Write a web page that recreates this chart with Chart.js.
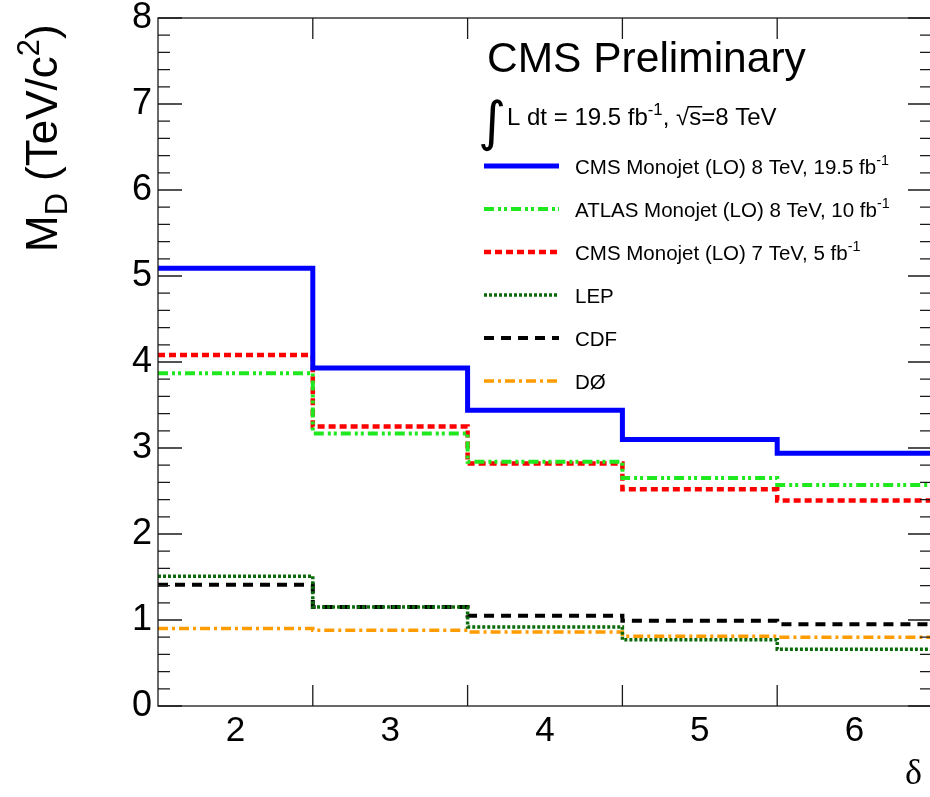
<!DOCTYPE html>
<html>
<head>
<meta charset="utf-8">
<script src="https://cdn.jsdelivr.net/npm/chart.js@4.4.1/dist/chart.umd.min.js"></script>
<style>
  html, body { margin: 0; padding: 0; background: #fff; overflow: hidden; }
  #wrap { position: relative; width: 932px; height: 797px; }
</style>
</head>
<body>
<div id="wrap"><canvas id="limitChart"></canvas></div>
<script>
"use strict";

// Binkanter i delta (antal extra dimensioner)
const binEdges = [1.5, 2.5, 3.5, 4.5, 5.5, 6.5];
const xTicks = [2, 3, 4, 5, 6];
const yTicks = [0, 1, 2, 3, 4, 5, 6, 7, 8];

// Nedre gränser på M_D (TeV), ett värde per bin
const cms8 = [5.09, 3.93, 3.44, 3.10, 2.94];
const atlas8 = [3.87, 3.17, 2.84, 2.65, 2.57];
const cms7 = [4.08, 3.25, 2.82, 2.52, 2.39];
const lep = [1.51, 1.15, 0.92, 0.77, 0.66];
const cdf = [1.41, 1.15, 1.05, 0.99, 0.95];
const d0 = [0.90, 0.88, 0.86, 0.81, 0.80];

const seriesNames = [
    "CMS Monojet (LO) 8 TeV, 19.5 fb^{-1}",
    "ATLAS Monojet (LO) 8 TeV, 10 fb^{-1}",
    "CMS Monojet (LO) 7 TeV, 5 fb^{-1}",
    "LEP",
    "CDF",
    "DØ"
];

const FONT = "'Liberation Sans', Arial, sans-serif";

// Gör om binvärden till punkter på binkanterna (trappsteg)
function toSteps(vals) {
    return binEdges.map((e, i) => ({ x: e, y: vals[Math.min(i, vals.length - 1)] }));
}

// Enkel text med ^{..} och _{..}
function parseRich(str) {
    const parts = [];
    const re = /([\^_])\{([^}]*)\}/g;
    let last = 0, m;
    while ((m = re.exec(str))) {
        if (m.index > last) parts.push({ t: str.slice(last, m.index), k: '' });
        parts.push({ t: m[2], k: m[1] });
        last = re.lastIndex;
    }
    if (last < str.length) parts.push({ t: str.slice(last), k: '' });
    return parts;
}

function drawRich(ctx, str, x, y, size, family) {
    ctx.textBaseline = 'alphabetic';
    ctx.textAlign = 'left';
    parseRich(str).forEach((p) => {
        const s = p.k ? size * 0.7 : size;
        ctx.font = s + 'px ' + family;
        let dy = 0;
        if (p.k === '^') dy = -size * 0.42;
        if (p.k === '_') dy = size * 0.22;
        ctx.fillText(p.t, x, y + dy);
        x += ctx.measureText(p.t).width;
    });
    return x;
}

// Ram med tickmarkeringar på alla sidor (ROOT-stil)
const frameTicks = {
    id: 'frameTicks',
    afterDraw(chart) {
        const { ctx, chartArea: a, scales: { x, y } } = chart;
        ctx.save();
        ctx.strokeStyle = '#1a1a1a';
        ctx.lineWidth = 1.3;
        ctx.strokeRect(a.left, a.top, a.right - a.left, a.bottom - a.top);
        ctx.beginPath();
        for (let i = 0; i <= 40; i++) {
            const py = y.getPixelForValue(i * 0.2);
            const len = i % 5 === 0 ? 24 : 12;
            ctx.moveTo(a.left, py); ctx.lineTo(a.left + len, py);
            ctx.moveTo(a.right, py); ctx.lineTo(a.right - len, py);
        }
        binEdges.slice(1, -1).forEach((e) => {
            const px = x.getPixelForValue(e);
            ctx.moveTo(px, a.bottom); ctx.lineTo(px, a.bottom - 21);
            ctx.moveTo(px, a.top); ctx.lineTo(px, a.top + 21);
        });
        ctx.stroke();
        ctx.restore();
    }
};

// Texter och legend
const annotations = {
    id: 'annotations',
    afterDraw(chart) {
        const ctx = chart.ctx;
        ctx.save();
        ctx.fillStyle = '#000';

        // Y-axelns titel
        ctx.save();
        ctx.translate(57, 252);
        ctx.rotate(-Math.PI / 2);
        drawRich(ctx, "M_{D} (TeV/c^{2})", 0, 0, 44, FONT);
        ctx.restore();

        // X-axelns titel
        ctx.font = "36px 'Liberation Serif', serif";
        ctx.textAlign = 'left';
        ctx.textBaseline = 'alphabetic';
        ctx.fillText('δ', 905, 784);

        // CMS Preliminary
        ctx.font = '42.5px ' + FONT;
        ctx.fillText('CMS Preliminary', 487, 72);

        // Integrerad luminositet
        ctx.font = "54px 'DejaVu Sans', sans-serif";
        ctx.fillText('∫', 478, 140);
        let px = drawRich(ctx, "L dt = 19.5 fb^{-1}, ", 507, 125, 24, FONT);
        ctx.font = '24px ' + FONT;
        ctx.fillText('√', px, 125);
        px += ctx.measureText('√').width;
        const sw = ctx.measureText('s').width;
        ctx.fillText('s', px, 125);
        ctx.fillRect(px - 1, 106, sw + 2, 1.5);
        px += sw;
        ctx.fillText('=8 TeV', px, 125);

        // Legend
        chart.data.datasets.forEach((ds, i) => {
            const ly = 166 + i * 43;
            ctx.save();
            ctx.strokeStyle = ds.borderColor;
            ctx.lineWidth = ds.borderWidth;
            ctx.setLineDash(ds.borderDash || []);
            ctx.beginPath();
            ctx.moveTo(484, ly);
            ctx.lineTo(559, ly);
            ctx.stroke();
            ctx.restore();
            ctx.fillStyle = '#000';
            drawRich(ctx, ds.label, 575, ly + 8, 20.5, FONT);
        });
        ctx.restore();
    }
};

const ctx = document.getElementById('limitChart');

new Chart(ctx, {
    type: 'line',
    data: {
        datasets: [
            { label: seriesNames[0], data: toSteps(cms8), borderColor: '#0000ff', borderWidth: 5, borderDash: [] },
            { label: seriesNames[1], data: toSteps(atlas8), borderColor: '#1fe81f', borderWidth: 4, borderDash: [10, 4, 3, 3, 3, 4] },
            { label: seriesNames[2], data: toSteps(cms7), borderColor: '#ff0000', borderWidth: 4.5, borderDash: [7, 4] },
            { label: seriesNames[3], data: toSteps(lep), borderColor: '#0b6b0b', borderWidth: 3.5, borderDash: [3, 2] },
            { label: seriesNames[4], data: toSteps(cdf), borderColor: '#000000', borderWidth: 4, borderDash: [10, 7] },
            { label: seriesNames[5], data: toSteps(d0), borderColor: '#ff9c00', borderWidth: 3.5, borderDash: [10, 4, 3, 4] }
        ].map((d) => Object.assign(d, { stepped: 'before', pointRadius: 0, fill: false, borderCapStyle: 'butt' }))
    },
    options: {
        responsive: true,
        maintainAspectRatio: false,
        animation: false,
        layout: { padding: { left: 0, right: 0, top: 18, bottom: 0 } },
        plugins: {
            legend: { display: false },
            tooltip: { enabled: false }
        },
        scales: {
            x: {
                type: 'linear',
                min: 1.5,
                max: 6.5,
                afterBuildTicks: (s) => { s.ticks = xTicks.map((v) => ({ value: v })); },
                afterFit: (s) => { s.height = 91; s.paddingLeft = 0; s.paddingRight = 0; },
                grid: { display: false, drawTicks: false },
                border: { display: false },
                ticks: {
                    color: '#000',
                    font: { family: FONT, size: 35 },
                    padding: 4,
                    maxRotation: 0,
                    callback: (v) => String(v)
                }
            },
            y: {
                min: 0,
                max: 8,
                afterBuildTicks: (s) => { s.ticks = yTicks.map((v) => ({ value: v })); },
                afterFit: (s) => { s.width = 158; s.paddingTop = 0; s.paddingBottom = 0; },
                grid: { display: false, drawTicks: false },
                border: { display: false },
                ticks: {
                    color: '#000',
                    font: { family: FONT, size: 36 },
                    padding: 6,
                    callback: (v) => String(v)
                }
            }
        }
    },
    plugins: [frameTicks, annotations]
});
</script>
</body>
</html>
